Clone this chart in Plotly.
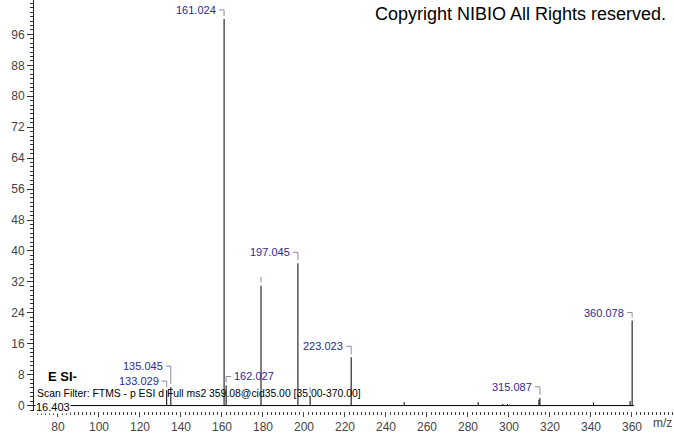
import plotly.graph_objects as go

# ---- data ----
peak_mz = [133.029, 135.045, 161.024, 162.027, 179.035, 197.045, 203.0, 223.023,
           248.9, 285.0, 297.0, 299.3, 314.6, 315.087, 341.2, 359.07, 360.078]
peak_int = [4.0, 4.8, 100.0, 5.2, 31.0, 36.8, 2.5, 12.5,
            0.9, 0.9, 0.4, 0.4, 1.5, 2.0, 0.8, 1.2, 22.0]

label_mz = [133.029, 135.045, 161.024, 162.027, 197.045, 223.023, 315.087, 360.078]
label_text = ["133.029", "135.045", "161.024", "162.027", "197.045", "223.023", "315.087", "360.078"]
tick_only_mz = [179.035, 203.0]

baseline_mz = [35.0, 361.0]

x_tick_vals = list(range(80, 361, 20))
y_tick_vals = list(range(0, 97, 8))

# label placement (pixels): side, text center above peak top
label_side = ["right", "right", "right", "left", "right", "right", "right", "right"]
label_rise = [9, 21, 9, 9, 11, 11, 11, 8]

LABEL_COLOR = "#2a2a96"
BRACKET_COLOR = "#8c8ca8"
FONT = "Arial, Liberation Sans, sans-serif"

inten = dict(zip(peak_mz, peak_int))

# stick spectrum
xs, ys = [], []
for m, v in zip(peak_mz, peak_int):
    xs += [m, m, None]
    ys += [0, v, None]

fig = go.Figure()
fig.add_trace(go.Scatter(x=baseline_mz, y=[0, 0], mode="lines",
                         line=dict(color="black", width=1), hoverinfo="skip"))
fig.add_trace(go.Scatter(x=xs, y=ys, mode="lines",
                         line=dict(color="black", width=1), hoverinfo="skip"))

shapes = []
annotations = []
for m, t, side, rise in zip(label_mz, label_text, label_side, label_rise):
    v = inten[m]
    sgn = -1 if side == "right" else 1
    annotations.append(dict(
        x=m, y=v, xref="x", yref="y", text=t, showarrow=False,
        xanchor="right" if side == "right" else "left", yanchor="middle",
        xshift=sgn * 6, yshift=rise,
        font=dict(family=FONT, size=11, color=LABEL_COLOR)))
    common = dict(type="line", xref="x", yref="y", xsizemode="pixel", ysizemode="pixel",
                  xanchor=m, yanchor=v, line=dict(color=BRACKET_COLOR, width=1))
    shapes.append(dict(**common, x0=sgn * 5, x1=0, y0=rise, y1=rise))
    shapes.append(dict(**common, x0=0, x1=0, y0=rise, y1=3))

for m in tick_only_mz:
    v = inten[m]
    shapes.append(dict(type="line", xref="x", yref="y", xsizemode="pixel", ysizemode="pixel",
                       xanchor=m, yanchor=v, x0=0, x1=0, y0=3, y1=9,
                       line=dict(color=BRACKET_COLOR, width=1)))

annotations += [
    dict(x=(668 - 34) / 640, y=1 - 14 / 413, xref="paper", yref="paper", xanchor="right",
         yanchor="middle", text="Copyright NIBIO All Rights reserved.", showarrow=False,
         font=dict(family=FONT, size=18, color="black")),
    dict(x=(46 - 34) / 640, y=1 - 378 / 413, xref="paper", yref="paper", xanchor="left",
         yanchor="middle", text="<b>E SI-</b>", showarrow=False,
         font=dict(family=FONT, size=13, color="black")),
    dict(x=(35 - 34) / 640, y=1 - 395 / 413, xref="paper", yref="paper", xanchor="left",
         yanchor="middle", text="Scan Filter: FTMS - p ESI d Full ms2 359.08@cid35.00 [35.00-370.00]",
         showarrow=False, font=dict(family=FONT, size=10.4, color="black")),
    dict(x=(35 - 34) / 640, y=1 - 408.5 / 413, xref="paper", yref="paper", xanchor="left",
         yanchor="middle", text="16.403", showarrow=False, bgcolor="white", borderpad=0,
         font=dict(family=FONT, size=11, color="black")),
    dict(x=(662 - 34) / 640, y=-12 / 413, xref="paper", yref="paper", xanchor="center",
         yanchor="middle", text="m/z", showarrow=False,
         font=dict(family=FONT, size=12, color="#444")),
]

fig.update_layout(
    width=674, height=434,
    margin=dict(l=34, r=0, t=0, b=21),
    paper_bgcolor="white", plot_bgcolor="white",
    showlegend=False,
    shapes=shapes, annotations=annotations,
    xaxis=dict(range=[68.3, 380.5], tickvals=x_tick_vals, ticktext=[str(v) for v in x_tick_vals],
               ticks="outside", ticklen=5, tickcolor="#444", showline=False,
               showgrid=False, zeroline=False,
               minor=dict(dtick=2, tick0=0, ticks="outside", ticklen=3, tickcolor="#444"),
               tickfont=dict(family=FONT, size=12, color="#444")),
    yaxis=dict(range=[-1.4, 104.9], tickvals=y_tick_vals, ticktext=[str(v) for v in y_tick_vals],
               ticks="outside", ticklen=6, tickcolor="#333", showline=True,
               linecolor="#222", linewidth=1, showgrid=False, zeroline=False,
               minor=dict(dtick=8 / 7, tick0=0, ticks="outside", ticklen=3, tickcolor="#333"),
               tickfont=dict(family=FONT, size=12, color="#444")),
)

fig.write_html("out.html", config={"displayModeBar": False},
               post_script="document.body.style.margin='0';document.body.style.overflow='hidden';")
